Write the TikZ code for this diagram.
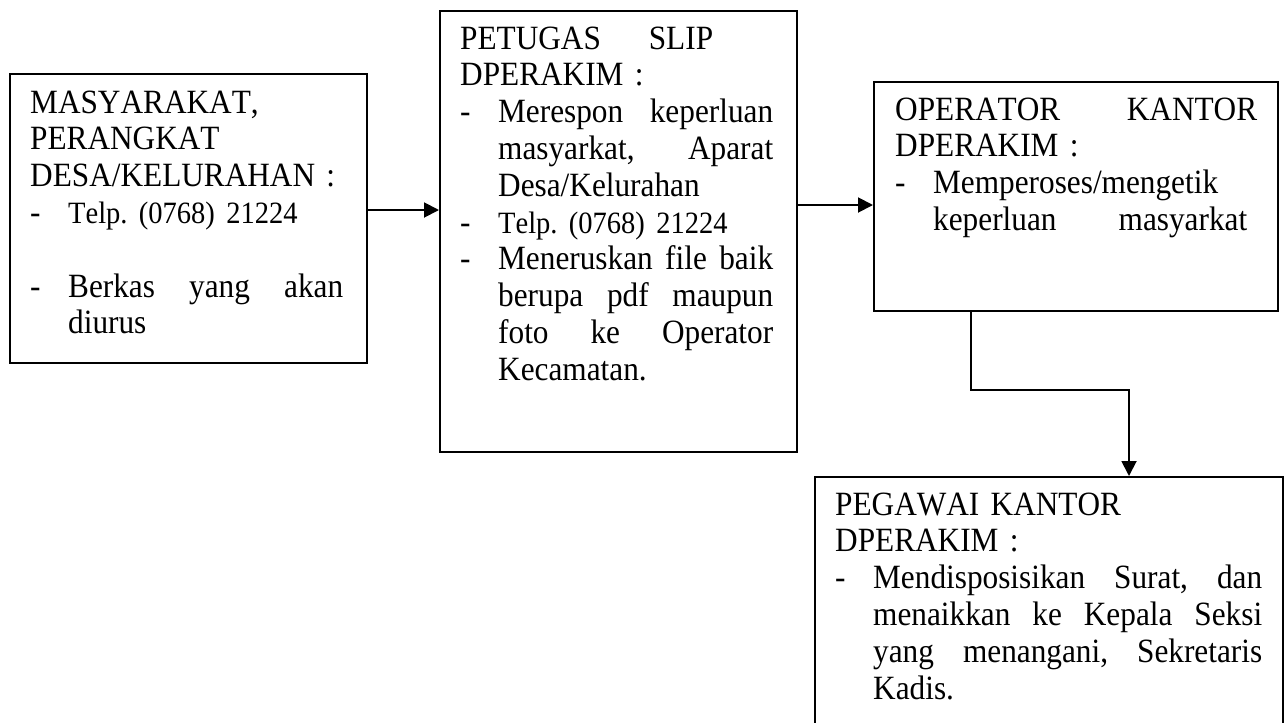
\documentclass[tikz,border=0pt]{standalone}
\usepackage{fontspec}
\newfontfamily\tnr[FakeStretch=0.92,Kerning=Off]{Liberation Serif}
\usetikzlibrary{arrows.meta}
\newcommand{\dsh}{\makebox[38pt][l]{-}}
\newcommand{\ind}{\hspace*{38pt}}
\newcommand{\js}[2]{\makebox[#1pt][l]{#2}}
\newcommand{\tel}[1]{{\fontsize{31}{36.8}\selectfont #1}}
\begin{document}
\begin{tikzpicture}[x=1pt,y=-1pt,
  box/.style={draw, line width=1.7pt, inner sep=0pt, anchor=north west},
  txt/.style={inner sep=0pt, anchor=base west, text width=#1, align=left,
    font=\tnr\fontsize{34}{36.8}\selectfont\frenchspacing},
  arr/.style={line width=1.9pt, -{Triangle[length=15pt,width=15pt]}}]
\useasboundingbox (0,0) rectangle (1286,723);
\clip (0,0) rectangle (1286,723);
\fill[white] (0,0) rectangle (1286,723);

\node[box, minimum width=357pt, minimum height=289pt] (b1) at (9,73) {};
\node[box, minimum width=357pt, minimum height=441pt] (b2) at (439,10) {};
\node[box, minimum width=404pt, minimum height=229pt] (b3) at (873,81) {};
\node[box, minimum width=468pt, minimum height=270pt] (b4) at (814,476) {};

\node[txt=320pt] (t1) at (30,113) {MASYARAKAT,\\
PERANGKAT\\
DESA/KELURAHAN :\\
\dsh\tel{Telp. (0768) 21224}\\[36.8pt]
\dsh\js{275}{Berkas\hfill yang\hfill akan}\\
\ind diurus};

\node[txt=320pt] (t2) at (460,49) {\js{253}{PETUGAS\hfill SLIP}\\
DPERAKIM :\\
\dsh\js{275}{Merespon\hfill keperluan}\\
\ind\js{275}{masyarkat,\hfill Aparat}\\
\ind Desa/Kelurahan\\
\dsh\tel{Telp. (0768) 21224}\\
\dsh\js{275}{Meneruskan\hfill file\hfill baik}\\
\ind\js{275}{berupa\hfill pdf\hfill maupun}\\
\ind\js{275}{foto\hfill ke\hfill Operator}\\
\ind Kecamatan.};

\node[txt=370pt] (t3) at (895,120) {\js{362}{OPERATOR\hfill KANTOR}\\
DPERAKIM :\\
\dsh Memperoses/mengetik\\
\ind\js{314}{keperluan\hfill masyarkat}};

\node[txt=435pt] (t4) at (835,515) {PEGAWAI KANTOR\\
DPERAKIM :\\
\dsh\js{389}{Mendisposisikan\hfill Surat,\hfill dan}\\
\ind\js{389}{menaikkan\hfill ke\hfill Kepala\hfill Seksi}\\
\ind\js{389}{yang\hfill menangani,\hfill Sekretaris}\\
\ind Kadis.};

\draw[arr] (b1.east |- 0,210) -- (b2.west |- 0,210);
\draw[arr] (b2.east |- 0,205) -- (b3.west |- 0,205);
\coordinate (k1) at (971,390);
\coordinate (k2) at (1129,390);
\draw[arr] (b3.south -| k1) -- (k1) -- (k2) -- (b4.north -| k2);
\end{tikzpicture}
\end{document}
